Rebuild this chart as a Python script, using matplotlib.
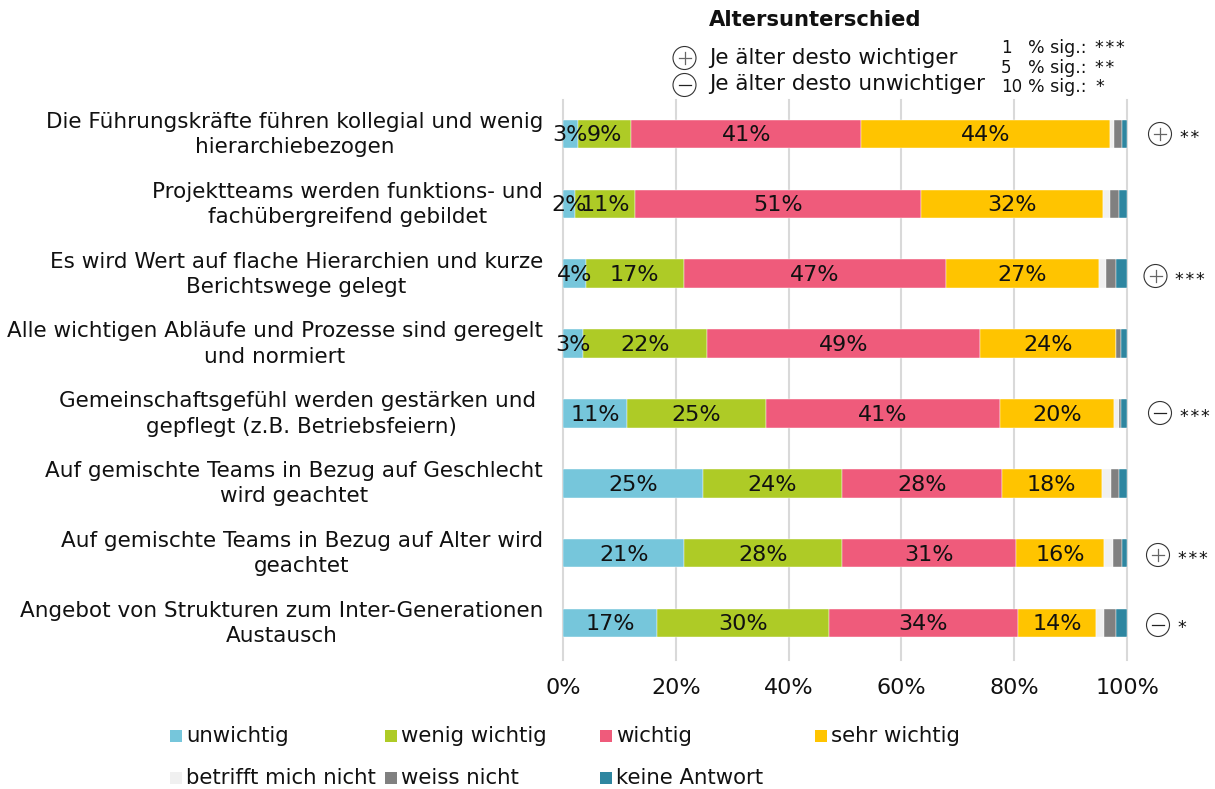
import matplotlib
matplotlib.use('Agg')
import matplotlib.pyplot as plt
from matplotlib.patches import Circle, Rectangle
import numpy as np

labels = [
    'Die Führungskräfte führen kollegial und wenig\nhierarchiebezogen',
    'Projektteams werden funktions- und\nfachübergreifend gebildet',
    'Es wird Wert auf flache Hierarchien und kurze\nBerichtswege gelegt',
    'Alle wichtigen Abläufe und Prozesse sind geregelt\nund normiert',
    'Gemeinschaftsgefühl werden gestärken und \ngepflegt (z.B. Betriebsfeiern)',
    'Auf gemischte Teams in Bezug auf Geschlecht\nwird geachtet',
    'Auf gemischte Teams in Bezug auf Alter wird\ngeachtet',
    'Angebot von Strukturen zum Inter-Generationen\nAustausch',
]

categories = ['unwichtig', 'wenig wichtig', 'wichtig', 'sehr wichtig',
              'betrifft mich nicht', 'weiss nicht', 'keine Antwort']
colors = ['#76C6DB', '#AECB26', '#EF5B7B', '#FFC400', '#F0F0F0', '#808080', '#2E86A0']

unwichtig = [2.6, 2.1, 4.0, 3.5, 11.4, 24.8, 21.5, 16.7]
wenig = [9.5, 10.7, 17.4, 22.0, 24.6, 24.6, 27.9, 30.4]
wichtig = [40.8, 50.7, 46.5, 48.5, 41.5, 28.4, 31.0, 33.6]
sehr = [44.0, 32.3, 27.1, 24.0, 20.2, 17.7, 15.5, 13.8]
betrifft = [0.8, 1.1, 1.2, 0.1, 0.9, 1.6, 1.6, 1.4]
weiss = [1.4, 1.7, 1.9, 0.8, 0.3, 1.4, 1.7, 2.2]
keine = [0.9, 1.4, 1.9, 1.1, 1.1, 1.5, 0.8, 1.9]
series = [unwichtig, wenig, wichtig, sehr, betrifft, weiss, keine]

# gedruckte Prozentwerte in den Balken
printed = [
    [3, 2, 4, 3, 11, 25, 21, 17],
    [9, 11, 17, 22, 25, 24, 28, 30],
    [41, 51, 47, 49, 41, 28, 31, 34],
    [44, 32, 27, 24, 20, 18, 16, 14],
]

# Altersunterschied: Vorzeichen und Signifikanz je Zeile
signs = ['+', '', '+', '', '-', '', '+', '-']
stars = ['**', '', '***', '', '***', '', '***', '*']
sign_x = [1160, 0, 1155.5, 0, 1160, 0, 1158, 1158]
sign_y = [134, 0, 276, 0, 413, 0, 555, 625]

W, H = 1215, 789
INK = '#111111'


def spaced(st):
    # Sternchen liegen im Original weiter auseinander
    return '\u200a'.join(st)


fig = plt.figure(figsize=(W / 100, H / 100), dpi=100)
ax = fig.add_axes([563 / W, 1 - 660 / H, 564 / W, 560 / H])
y = np.arange(len(labels))

left = np.zeros(len(labels))
for i, vals in enumerate(series):
    vals = np.array(vals)
    ax.barh(y, vals, left=left, height=0.41, color=colors[i], edgecolor='white',
            linewidth=0.3, zorder=3)
    if i < len(printed):
        for j in range(len(labels)):
            ax.text(left[j] + vals[j] / 2, y[j] + 0.02, '%d%%' % printed[i][j], ha='center',
                    va='center', fontsize=16, color=INK, zorder=4)
    left = left + vals

ax.set_xlim(0, 100)
ax.set_ylim(7.53, -0.487)
ax.set_xticks(range(0, 101, 20))
ax.set_xticklabels(['%d%%' % v for v in range(0, 101, 20)], fontsize=16, color=INK)
ax.set_yticks(y)
ax.set_yticklabels([])
for j, lab in enumerate(labels):
    ax.annotate(lab, xy=(0, y[j]), xycoords=('axes fraction', 'data'), xytext=(-20, -0.5),
                textcoords='offset pixels', ha='right', va='center', multialignment='center',
                fontsize=15.45, color=INK, linespacing=1.33, annotation_clip=False)
ax.tick_params(axis='both', length=0)
ax.tick_params(axis='x', pad=13)
ax.grid(axis='x', color='#D9D9D9', linewidth=1.5, zorder=0)
for g in ax.get_xgridlines():
    g.set_clip_on(False)
ax.set_axisbelow(True)
for s in ax.spines.values():
    s.set_visible(False)

# Overlay in Pixelkoordinaten fuer Kopf, Zeichen und Legende
ov = fig.add_axes([0, 0, 1, 1], facecolor='none')
ov.set_xlim(0, W)
ov.set_ylim(H, 0)
ov.axis('off')


def draw_sign(cx, cy, sign):
    ov.add_patch(Circle((cx, cy), 11.5, facecolor='white', edgecolor='#333333', linewidth=0.8))
    ov.plot([cx - 6, cx + 6], [cy, cy], color='#222222' if sign == '-' else '#666666', linewidth=0.9)
    if sign == '+':
        ov.plot([cx, cx], [cy - 6, cy + 6], color='#666666', linewidth=0.9)


for i in range(len(labels)):
    if signs[i]:
        draw_sign(sign_x[i], sign_y[i], signs[i])
        ov.text(sign_x[i] + 19.5, sign_y[i] + 3.5, spaced(stars[i]), fontsize=12.5, va='center', color=INK)

ov.text(709, 20, 'Altersunterschied', fontsize=15.2, fontweight='bold', va='center', color=INK)
draw_sign(684.5, 58, '+')
draw_sign(684.5, 85, '-')
ov.text(709, 58, 'Je älter desto wichtiger', fontsize=15.5, va='center', color=INK)
ov.text(709, 84, 'Je älter desto unwichtiger', fontsize=15.5, va='center', color=INK)

sig_nums = ['1', '5', '10']
sig_stars = ['***', '**', '*']
sig_y = [48, 68, 87]
for n, st, sy in zip(sig_nums, sig_stars, sig_y):
    ov.text(1001, sy, n, fontsize=12, va='center', color=INK)
    ov.text(1028, sy, '% sig.:', fontsize=12.5, va='center', color=INK)
    ov.text(1095, sy, spaced(st), fontsize=12.5, va='center', color=INK)

leg_x = [170, 170, 385, 385, 600, 600, 815]
leg_y = [736, 778, 736, 778, 736, 778, 736]
leg_order = [0, 4, 1, 5, 2, 6, 3]
for k, c in enumerate(leg_order):
    ov.add_patch(Rectangle((leg_x[k], leg_y[k] - 6), 11.5, 12, facecolor=colors[c], edgecolor='none'))
    ov.text(leg_x[k] + 16, leg_y[k], categories[c], fontsize=15.3, va='center', color=INK)

fig.savefig('out.png', dpi=100)
